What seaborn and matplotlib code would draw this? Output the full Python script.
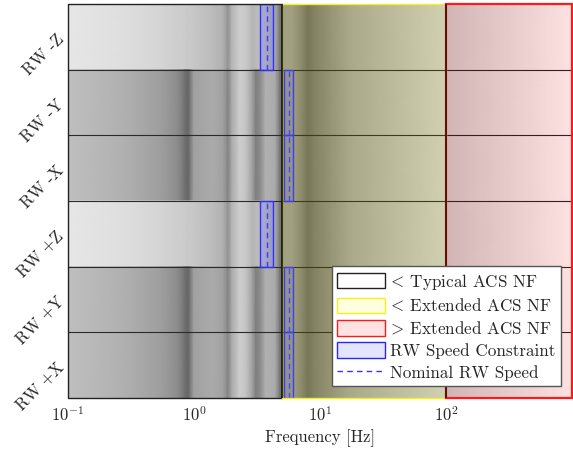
import numpy as np
import matplotlib
matplotlib.use("Agg")
import matplotlib.pyplot as plt
from matplotlib.patches import Rectangle, Patch
from matplotlib.lines import Line2D
import seaborn as sns

# --- data ---
rows = ["RW -Z", "RW -Y", "RW -X", "RW +Z", "RW +Y", "RW +X"]
row_profile = ["light", "dark", "dark", "light", "dark", "dark"]

# gray level of the background strip at a few frequencies (0 = black, 1 = white)
freq_knots = [0.1, 0.18, 0.31, 0.54, 0.75, 0.85, 0.9, 0.95, 1.0, 1.4, 1.7, 1.86,
              2.0, 2.3, 2.6, 2.9, 3.1, 3.4, 3.7, 4.4, 4.8, 4.99,
              5.01, 6.0, 7.0, 8.0, 9.0, 17.0, 100.0, 1000.0]
gray_dark = [0.74, 0.71, 0.67, 0.61, 0.53, 0.42, 0.38, 0.50, 0.62, 0.66, 0.62, 0.50,
             0.66, 0.80, 0.75, 0.62, 0.48, 0.55, 0.68, 0.66, 0.45, 0.40,
             0.58, 0.58, 0.50, 0.40, 0.45, 0.62, 0.80, 1.00]
gray_light = [0.90, 0.88, 0.86, 0.83, 0.80, 0.79, 0.78, 0.78, 0.77, 0.73, 0.68, 0.56,
              0.70, 0.80, 0.78, 0.70, 0.72, 0.74, 0.74, 0.66, 0.45, 0.40,
              0.58, 0.58, 0.50, 0.40, 0.45, 0.62, 0.80, 1.00]

# RW speed constraint per row [Hz]
speed_lo = [3.34, 5.18, 5.18, 3.34, 5.18, 5.18]
speed_hi = [4.24, 6.10, 6.10, 4.24, 6.10, 6.10]
speed_nom = [3.79, 5.65, 5.65, 3.79, 5.65, 5.65]

# ACS natural frequency bands [Hz]
typical_nf = 5.0
extended_nf = 100.0
f_min, f_max = 0.1, 1000.0

sns.set_theme(style="white")
plt.rcParams["font.family"] = "serif"
plt.rcParams["font.serif"] = ["cmr10"]
plt.rcParams["mathtext.fontset"] = "cm"
plt.rcParams["axes.formatter.use_mathtext"] = True

fig = plt.figure(figsize=(5.73, 4.55), dpi=100)
ax = fig.add_axes([68 / 573, 1 - 398 / 455, 504 / 573, 394 / 455])

n = len(rows)
profiles = {"light": gray_light, "dark": gray_dark}
for i, name in enumerate(rows):
    y0 = n - 1 - i
    vals = np.array(profiles[row_profile[i]])
    X, Y = np.meshgrid(freq_knots, [y0, y0 + 1])
    C = np.vstack([vals, vals])
    ax.pcolormesh(X, Y, C, shading="gouraud", cmap="gray", vmin=0, vmax=1)

    # RW speed constraint band + nominal speed
    ax.add_patch(Rectangle((speed_lo[i], y0), speed_hi[i] - speed_lo[i], 1,
                           facecolor=(0.3, 0.3, 1.0, 0.22), edgecolor=(0.15, 0.15, 1.0),
                           lw=1.0, zorder=4))
    ax.plot([speed_nom[i], speed_nom[i]], [y0, y0 + 1], color=(0.2, 0.2, 1.0),
            ls=(0, (4, 3)), lw=1.0, zorder=5)

# row separators
for k in range(1, n):
    ax.axhline(k, color="#222222", lw=0.8, zorder=3)

# ACS natural frequency regions
ax.add_patch(Rectangle((f_min, 0), typical_nf - f_min, n, facecolor=(1, 1, 1, 0.04),
                       edgecolor="#222222", lw=1.0, zorder=6, clip_on=False))
ax.add_patch(Rectangle((typical_nf, 0), extended_nf - typical_nf, n,
                       facecolor=(1, 1, 0, 0.12), edgecolor=(0.95, 0.95, 0.1), lw=1.0,
                       zorder=6, clip_on=False))
ax.add_patch(Rectangle((extended_nf, 0), f_max - extended_nf, n,
                       facecolor=(1, 0, 0, 0.11), edgecolor=(1, 0.1, 0.1), lw=1.6,
                       zorder=6, clip_on=False))
ax.plot([extended_nf, extended_nf], [0, n], color="#3a1010", lw=1.2, zorder=7)
ax.plot([typical_nf, typical_nf], [0, n], color="#111111", lw=1.2, zorder=7)

ax.set_xscale("log")
ax.set_xlim(f_min, f_max)
ax.set_ylim(0, n)
ax.set_xticks([0.1, 1, 10, 100])
ax.xaxis.set_minor_locator(matplotlib.ticker.NullLocator())
ax.set_yticks([n - 1 - i + 0.5 for i in range(n)])
ax.set_yticklabels(rows, rotation=45, ha="right", va="center", rotation_mode="anchor")
ax.tick_params(axis="both", length=0, labelsize=12)
ax.tick_params(axis="x", pad=5)
ax.tick_params(axis="y", pad=5)
for s in ax.spines.values():
    s.set_visible(False)
ax.set_xlabel("Frequency [Hz]", fontsize=12, labelpad=4)

handles = [
    Patch(facecolor=(1, 1, 1, 0.9), edgecolor="#222222", lw=1.0),
    Patch(facecolor=(1, 1, 0, 0.12), edgecolor=(0.95, 0.95, 0.1), lw=1.0),
    Patch(facecolor=(1, 0, 0, 0.11), edgecolor=(1, 0.1, 0.1), lw=1.0),
    Patch(facecolor=(0.3, 0.3, 1.0, 0.15), edgecolor=(0.15, 0.15, 1.0), lw=1.0),
    Line2D([], [], color=(0.2, 0.2, 1.0), ls=(0, (4, 3)), lw=1.0),
]
labels = [r"$\!<\!$ Typical ACS NF", r"$\!<\!$ Extended ACS NF",
          r"$\!>\!$ Extended ACS NF", "RW Speed Constraint", "Nominal RW Speed"]
leg = ax.legend(handles, labels, loc="lower right", bbox_to_anchor=(0.978, 0.03),
                fontsize=12.3, fancybox=False, framealpha=1, edgecolor="#555555",
                handlelength=2.8, handleheight=1.0, handletextpad=0.3,
                labelspacing=0.33, borderpad=0.3, borderaxespad=0)
leg.set_zorder(10)

fig.savefig("out.png", dpi=100)
